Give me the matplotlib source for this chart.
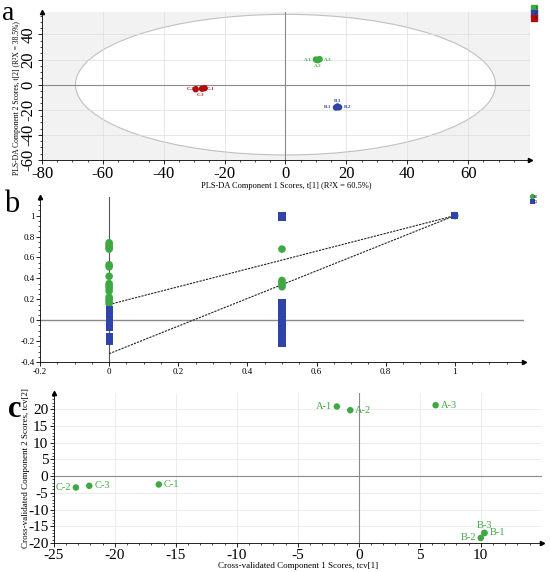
import numpy as np
import matplotlib
matplotlib.use('Agg')
import matplotlib.pyplot as plt
from matplotlib.patches import Ellipse
from matplotlib.lines import Line2D

plt.rcParams['font.family'] = ['Liberation Serif', 'DejaVu Serif']
plt.rcParams['axes.unicode_minus'] = False

# ==================== 数据 ====================
# a: PLS-DA 得分图
A_LABELS = ['A-1', 'A-2', 'A-3']
A_X = [10.0, 10.6, 11.2]
A_Y = [20.0, 19.5, 20.3]
B_LABELS = ['B-1', 'B-2', 'B-3']
B_X = [16.6, 17.6, 17.1]
B_Y = [-18.2, -18.0, -17.4]
C_LABELS = ['C-1', 'C-2', 'C-3']
C_X = [-26.6, -29.5, -27.4]
C_Y = [-2.8, -3.6, -3.2]
ELLIPSE_W = 69.0
ELLIPSE_H = 56.0

# b: 置换检验
R2_X = [0] * 15 + [0.5] * 5 + [1]
R2_Y = [0.74, 0.72, 0.70, 0.68, 0.53, 0.51, 0.42, 0.35, 0.33, 0.31, 0.28,
        0.22, 0.20, 0.18, 0.16,
        0.68, 0.38, 0.36, 0.34, 0.32,
        1.0]
Q2_X = [0] * 10 + [0.5] * 22 + [1]
Q2_Y = [0.10, 0.07, 0.04, 0.02, 0.0, -0.02, -0.04, -0.07, -0.16, -0.20,
        1.0, 0.98, 0.17, 0.15, 0.13, 0.11, 0.09, 0.07, 0.05, 0.03, 0.01,
        -0.01, -0.03, -0.05, -0.07, -0.09, -0.11, -0.13, -0.15, -0.17,
        -0.19, -0.22,
        1.0]
R2_LINE_X = [0, 1]
R2_LINE_Y = [0.15, 1.0]
Q2_LINE_X = [0, 1]
Q2_LINE_Y = [-0.32, 1.0]

# c: 交叉验证得分图
CV_LABELS = ['A-1', 'A-2', 'A-3', 'B-1', 'B-2', 'B-3', 'C-1', 'C-2', 'C-3']
CV_X = [-1.8, -0.7, 6.3, 10.3, 10.0, 10.3, -16.4, -23.2, -22.1]
CV_Y = [20.8, 19.7, 21.2, -17.0, -18.5, -17.0, -2.5, -3.4, -2.9]

GREEN = '#3fa843'
BLUE = '#3043a8'
RED = '#b00d0d'
ZERO_GRAY = '#8a8a8a'

# 标签位置: left / right / below / above
A_POS = {'A-1': 'left', 'A-2': 'below', 'A-3': 'right'}
B_POS = {'B-1': 'left', 'B-2': 'right', 'B-3': 'above'}
C_POS = {'C-1': 'right', 'C-2': 'left', 'C-3': 'below'}
CV_POS = {'A-1': 'left', 'A-2': 'right', 'A-3': 'right', 'B-1': 'right',
          'B-2': 'left', 'B-3': 'above', 'C-1': 'right', 'C-2': 'left', 'C-3': 'right'}


def add_arrows(ax):
    """坐标轴末端箭头"""
    ax.plot(1, 0, '>k', ms=3, transform=ax.transAxes, clip_on=False)
    ax.plot(0, 1, '^k', ms=3, transform=ax.transAxes, clip_on=False)


def style_axes(ax, labelsize):
    ax.spines['top'].set_visible(False)
    ax.spines['right'].set_visible(False)
    ax.spines['left'].set_linewidth(0.6)
    ax.spines['bottom'].set_linewidth(0.6)
    ax.tick_params(labelsize=labelsize, width=0.6, length=3, pad=1)
    ax.minorticks_on()
    ax.tick_params(which='minor', length=1.5, width=0.5)
    add_arrows(ax)


def put_label(ax, x, y, text, where, dx, dy, **kw):
    if where == 'left':
        ax.text(x - dx, y, text, ha='right', va='center', **kw)
    elif where == 'right':
        ax.text(x + dx, y, text, ha='left', va='center', **kw)
    elif where == 'below':
        ax.text(x, y - dy, text, ha='center', va='center', **kw)
    else:
        ax.text(x, y + dy, text, ha='center', va='center', **kw)


fig = plt.figure(figsize=(5.5, 5.72), dpi=100)

# ---------- a ----------
ax1 = fig.add_axes([0.0764, 0.7203, 0.887, 0.259])
ax1.set_facecolor('#f2f2f2')
ax1.add_patch(Ellipse((0, 0), 2 * ELLIPSE_W, 2 * ELLIPSE_H, facecolor='white',
                      edgecolor='#c0c0c0', lw=0.8, zorder=0))
ax1.set_xlim(-80, 80.3)
ax1.set_ylim(-60, 58)
ax1.set_xticks([-80, -60, -40, -20, 0, 20, 40, 60])
ax1.set_yticks([-60, -40, -20, 0, 20, 40])
ax1.grid(True, color='#dddddd', lw=0.5, zorder=0.5)
ax1.set_axisbelow(True)
ax1.axhline(0, color=ZERO_GRAY, lw=0.8, zorder=1)
ax1.axvline(0, color=ZERO_GRAY, lw=0.8, zorder=1)
for xs, ys, labels, col, pos in [(A_X, A_Y, A_LABELS, GREEN, A_POS),
                                 (B_X, B_Y, B_LABELS, BLUE, B_POS),
                                 (C_X, C_Y, C_LABELS, RED, C_POS)]:
    ax1.scatter(xs, ys, s=22, color=col, zorder=3, edgecolors='none')
    cx, cy = np.mean(xs), np.mean(ys)
    for lab in labels:
        put_label(ax1, cx, cy, lab, pos[lab], 2.0, 5.0,
                  fontsize=3.5, color=col, fontweight='bold')
style_axes(ax1, 12)
for t in ax1.get_yticklabels():
    t.set_rotation(90)
    t.set_va('center')
ax1.set_xlabel('PLS-DA Component 1 Scores, t[1] (R²X = 60.5%)', fontsize=6, labelpad=0)
ax1.set_ylabel('PLS-DA Component 2 Scores, t[2] (R²X = 38.5%)', fontsize=5.5)
ax1.yaxis.set_label_coords(-0.044, 0.42)
handles = [Line2D([], [], marker='s', ls='', color=c, ms=5) for c in (GREEN, BLUE, RED)]
fig.legend(handles, ['1', '2', '3'], loc='upper left', bbox_to_anchor=(0.965, 0.992),
           fontsize=2.5, frameon=False, handlelength=0.6, handletextpad=0.2,
           labelspacing=0.25, borderpad=0)
fig.text(0.004, 0.998, 'a', fontsize=20, va='top', ha='left')

# ---------- b ----------
ax2 = fig.add_axes([0.0727, 0.367, 0.88, 0.289])
ax2.set_xlim(-0.2, 1.2)
ax2.set_ylim(-0.4, 1.18)
ax2.set_xticks([-0.2, 0, 0.2, 0.4, 0.6, 0.8, 1])
ax2.set_xticklabels(['-0.2', '0', '0.2', '0.4', '0.6', '0.8', '1'])
ax2.set_yticks([-0.4, -0.2, 0, 0.2, 0.4, 0.6, 0.8, 1])
ax2.set_yticklabels(['-0.4', '-0.2', '0', '0.2', '0.4', '0.6', '0.8', '1'])
ax2.axhline(0, color=ZERO_GRAY, lw=1.0, zorder=1)
ax2.axvline(0, color='#555555', lw=0.8, zorder=1)
ax2.scatter(R2_X, R2_Y, s=30, color=GREEN, marker='o', zorder=3, edgecolors='none', label='R2')
ax2.scatter(Q2_X, Q2_Y, s=26, color=BLUE, marker='s', zorder=3, edgecolors='none', label='Q2')
ax2.plot(R2_LINE_X, R2_LINE_Y, ls=(0, (2, 1)), color='#222222', lw=0.8, zorder=2)
ax2.plot(Q2_LINE_X, Q2_LINE_Y, ls=(0, (2, 1)), color='#222222', lw=0.8, zorder=2)
style_axes(ax2, 6.5)
ax2.legend(loc='upper left', bbox_to_anchor=(0.963, 0.663), bbox_transform=fig.transFigure,
           fontsize=2.5, frameon=False, handlelength=0.6, handletextpad=0.2,
           labelspacing=0.3, borderpad=0, markerscale=0.7)
fig.text(0.008, 0.668, 'b', fontsize=22, va='top', ha='left')

# ---------- c ----------
ax3 = fig.add_axes([0.098, 0.0507, 0.887, 0.262])
ax3.set_xlim(-25, 15.0)
ax3.set_ylim(-20, 24.8)
ax3.set_xticks([-25, -20, -15, -10, -5, 0, 5, 10])
ax3.set_yticks([-20, -15, -10, -5, 0, 5, 10, 15, 20])
ax3.grid(True, color='#e6e6e6', lw=0.5)
ax3.set_axisbelow(True)
ax3.axhline(0, color=ZERO_GRAY, lw=0.8, zorder=1)
ax3.axvline(0, color=ZERO_GRAY, lw=0.8, zorder=1)
ax3.scatter(CV_X, CV_Y, s=22, color=GREEN, zorder=3, edgecolors='none')
for lab, x, y in zip(CV_LABELS, CV_X, CV_Y):
    put_label(ax3, x, y, lab, CV_POS[lab], 0.4, 2.2, fontsize=7.5, color=GREEN)
style_axes(ax3, 11)
ax3.set_xlabel('Cross-validated Component 1 Scores, tcv[1]', fontsize=6.5, labelpad=0)
ax3.set_ylabel('Cross-validated Component 2 Scores, tcv[2]', fontsize=6.5)
ax3.yaxis.set_label_coords(-0.049, 0.5)
fig.text(0.015, 0.31, 'c', fontsize=22, va='top', ha='left', fontweight='bold')

plt.savefig('out.png', dpi=100)
